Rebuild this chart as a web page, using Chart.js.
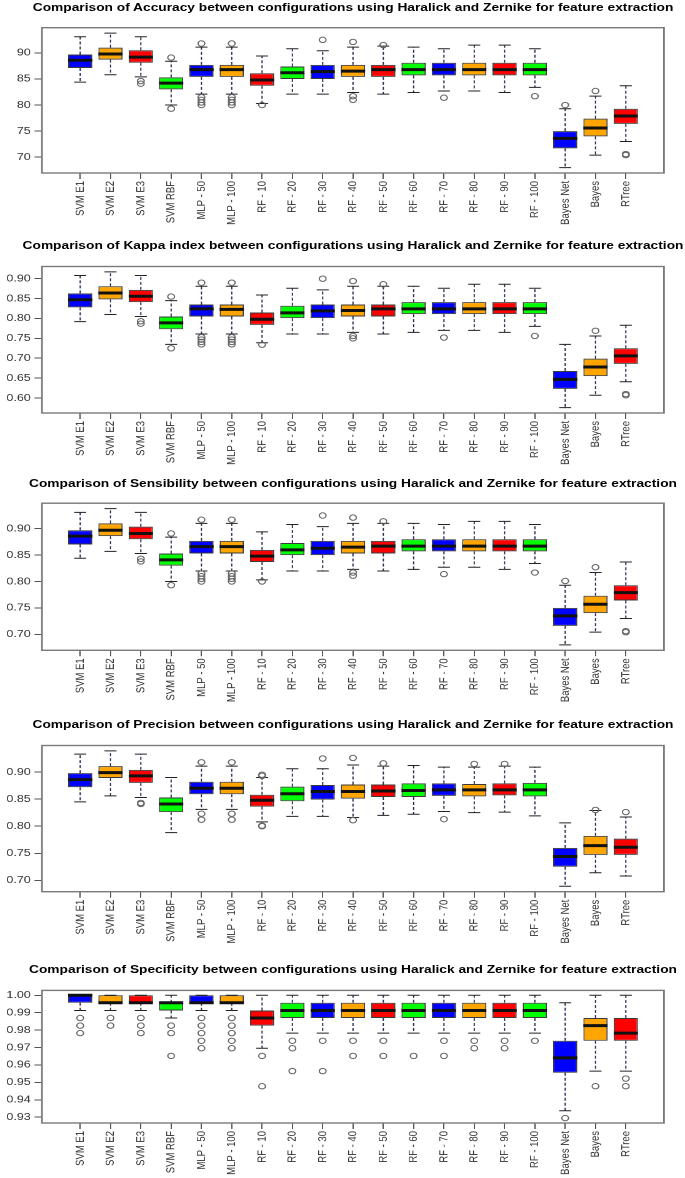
<!DOCTYPE html>
<html><head><meta charset="utf-8">
<script src="https://cdn.jsdelivr.net/npm/chart.js@4.4.0/dist/chart.umd.min.js"></script>
<style>
html,body{margin:0;padding:0;background:#fff;}
body{width:685px;height:1178px;position:relative;overflow:hidden;}
.panel{position:absolute;left:0;transform-origin:0 0;}
.panel canvas{display:block;position:absolute;left:0;top:0;}
.panel .ttl{position:absolute;width:600px;text-align:center;white-space:nowrap;font:bold 11px 'Liberation Sans', Arial, sans-serif;line-height:14px;color:#000;}
</style></head><body>
<div class="panel" id="p1"><canvas id="c1"></canvas><div class="ttl" id="t1"></div></div>
<div class="panel" id="p2"><canvas id="c2"></canvas><div class="ttl" id="t2"></div></div>
<div class="panel" id="p3"><canvas id="c3"></canvas><div class="ttl" id="t3"></div></div>
<div class="panel" id="p4"><canvas id="c4"></canvas><div class="ttl" id="t4"></div></div>
<div class="panel" id="p5"><canvas id="c5"></canvas><div class="ttl" id="t5"></div></div>
<script>
const categories = ['SVM E1','SVM E2','SVM E3','SVM RBF','MLP - 50','MLP - 100','RF - 10','RF - 20','RF - 30','RF - 40','RF - 50','RF - 60','RF - 70','RF - 80','RF - 90','RF - 100','Bayes Net','Bayes','RTree'];

// Accuracy
const accMin = [84.4, 85.8, 85.4, 80.0, 82.1, 82.1, 80.3, 82.1, 82.1, 82.4, 82.1, 82.4, 82.7, 82.7, 82.4, 83.4, 68.0, 70.4, 73.0];
const accQ1  = [87.1, 88.7, 88.1, 83.0, 85.4, 85.4, 83.7, 85.0, 85.0, 85.4, 85.4, 85.7, 85.7, 85.7, 85.7, 85.7, 71.7, 74.0, 76.4];
const accMed = [88.6, 89.8, 89.2, 84.2, 86.8, 86.8, 84.8, 86.2, 86.4, 86.5, 86.8, 86.8, 86.8, 86.8, 86.8, 86.8, 73.6, 75.6, 77.9];
const accQ3  = [89.7, 91.0, 90.5, 85.3, 87.7, 87.7, 86.1, 87.4, 87.7, 87.7, 87.7, 88.1, 88.1, 88.1, 88.1, 88.1, 75.0, 77.4, 79.3];
const accMax = [93.1, 93.8, 93.1, 88.4, 91.1, 91.1, 89.4, 90.8, 90.4, 91.1, 91.3, 91.1, 90.8, 91.5, 91.5, 90.8, 79.3, 81.7, 83.7];
const accOut = [[], [], [84.6, 84.1], [89.1, 79.3], [91.8, 81.5, 81.0, 80.5, 80.0], [91.8, 81.5, 81.0, 80.5, 80.0], [80.0], [], [92.5], [92.1, 81.7, 81.0], [91.5], [], [81.4], [], [], [81.7], [80.0], [82.7], [70.6, 70.4]];
const accTicks = [70, 75, 80, 85, 90];
const accTickLabels = ['70', '75', '80', '85', '90'];

// Kappa index
const kapMin = [0.792, 0.810, 0.805, 0.735, 0.761, 0.761, 0.739, 0.761, 0.761, 0.765, 0.761, 0.765, 0.770, 0.770, 0.765, 0.780, 0.576, 0.607, 0.641];
const kapQ1  = [0.828, 0.848, 0.841, 0.773, 0.805, 0.805, 0.784, 0.801, 0.801, 0.805, 0.805, 0.811, 0.811, 0.811, 0.811, 0.811, 0.623, 0.655, 0.686];
const kapMed = [0.847, 0.864, 0.856, 0.789, 0.824, 0.823, 0.798, 0.814, 0.819, 0.820, 0.824, 0.824, 0.824, 0.824, 0.824, 0.824, 0.647, 0.678, 0.706];
const kapQ3  = [0.863, 0.881, 0.872, 0.805, 0.835, 0.835, 0.815, 0.832, 0.835, 0.835, 0.835, 0.841, 0.841, 0.841, 0.841, 0.841, 0.668, 0.699, 0.725];
const kapMax = [0.908, 0.917, 0.908, 0.845, 0.881, 0.881, 0.859, 0.876, 0.872, 0.881, 0.881, 0.881, 0.876, 0.886, 0.886, 0.876, 0.735, 0.756, 0.783];
const kapOut = [[], [], [0.793, 0.787], [0.855, 0.725], [0.890, 0.753, 0.747, 0.741, 0.735], [0.890, 0.753, 0.747, 0.741, 0.735], [0.734], [], [0.900], [0.894, 0.756, 0.750], [0.886], [], [0.752], [], [], [0.756], [], [0.769], [0.610, 0.607]];
const kapTicks = [0.60, 0.65, 0.70, 0.75, 0.80, 0.85, 0.90];
const kapTickLabels = ['0.60', '0.65', '0.70', '0.75', '0.80', '0.85', '0.90'];

// Sensibility
const senMin = [0.844, 0.857, 0.853, 0.800, 0.820, 0.820, 0.803, 0.820, 0.820, 0.823, 0.820, 0.823, 0.827, 0.827, 0.823, 0.834, 0.680, 0.704, 0.730];
const senQ1  = [0.870, 0.886, 0.880, 0.830, 0.853, 0.853, 0.837, 0.850, 0.850, 0.853, 0.853, 0.857, 0.857, 0.857, 0.857, 0.857, 0.716, 0.740, 0.764];
const senMed = [0.886, 0.897, 0.891, 0.841, 0.866, 0.866, 0.848, 0.860, 0.863, 0.865, 0.867, 0.867, 0.867, 0.867, 0.867, 0.867, 0.735, 0.757, 0.779];
const senQ3  = [0.897, 0.910, 0.904, 0.853, 0.877, 0.877, 0.860, 0.873, 0.877, 0.877, 0.877, 0.880, 0.880, 0.880, 0.880, 0.880, 0.750, 0.773, 0.793];
const senMax = [0.931, 0.938, 0.931, 0.884, 0.910, 0.910, 0.894, 0.908, 0.904, 0.910, 0.910, 0.910, 0.908, 0.914, 0.914, 0.908, 0.793, 0.817, 0.837];
const senOut = [[], [], [0.843, 0.838], [0.891, 0.793], [0.917, 0.815, 0.810, 0.805, 0.800], [0.917, 0.815, 0.810, 0.805, 0.800], [0.800], [], [0.925], [0.921, 0.817, 0.811], [0.914], [], [0.814], [], [], [0.817], [0.801], [0.827], [0.706, 0.704]];
const senTicks = [0.70, 0.75, 0.80, 0.85, 0.90];
const senTickLabels = ['0.70', '0.75', '0.80', '0.85', '0.90'];

// Precision
const preMin = [0.845, 0.856, 0.853, 0.788, 0.831, 0.831, 0.808, 0.818, 0.818, 0.816, 0.820, 0.822, 0.827, 0.825, 0.826, 0.819, 0.689, 0.714, 0.708];
const preQ1  = [0.872, 0.889, 0.880, 0.826, 0.859, 0.859, 0.836, 0.846, 0.849, 0.851, 0.854, 0.854, 0.856, 0.855, 0.857, 0.855, 0.725, 0.747, 0.747];
const preMed = [0.886, 0.899, 0.893, 0.841, 0.870, 0.870, 0.848, 0.860, 0.864, 0.864, 0.865, 0.866, 0.867, 0.867, 0.867, 0.867, 0.744, 0.764, 0.761];
const preQ3  = [0.898, 0.911, 0.904, 0.853, 0.882, 0.882, 0.858, 0.873, 0.876, 0.877, 0.877, 0.879, 0.879, 0.878, 0.879, 0.880, 0.760, 0.782, 0.777];
const preMax = [0.933, 0.939, 0.933, 0.890, 0.911, 0.911, 0.890, 0.906, 0.906, 0.913, 0.911, 0.912, 0.909, 0.909, 0.911, 0.909, 0.806, 0.829, 0.817];
const preOut = [[], [], [0.843, 0.841], [], [0.918, 0.823, 0.812], [0.918, 0.823, 0.812], [0.895, 0.893, 0.801, 0.800], [], [0.925], [0.926, 0.811], [0.916], [], [0.813], [0.915], [0.915], [], [], [0.830], [0.826]];
const preTicks = [0.70, 0.75, 0.80, 0.85, 0.90];
const preTickLabels = ['0.70', '0.75', '0.80', '0.85', '0.90'];

// Specificity
const speMin = [0.9913, 0.9913, 0.9913, 0.9870, 0.9913, 0.9913, 0.9696, 0.9783, 0.9783, 0.9783, 0.9783, 0.9783, 0.9783, 0.9783, 0.9783, 0.9783, 0.9337, 0.9565, 0.9565];
const speQ1  = [0.9957, 0.9957, 0.9957, 0.9913, 0.9957, 0.9957, 0.9826, 0.9870, 0.9870, 0.9870, 0.9870, 0.9870, 0.9870, 0.9870, 0.9870, 0.9870, 0.9555, 0.9739, 0.9739];
const speMed = [1.0000, 0.9957, 0.9957, 0.9957, 0.9957, 0.9957, 0.9870, 0.9913, 0.9913, 0.9913, 0.9913, 0.9913, 0.9913, 0.9913, 0.9913, 0.9913, 0.9641, 0.9826, 0.9783];
const speQ3  = [1.0000, 1.0000, 1.0000, 0.9957, 1.0000, 1.0000, 0.9913, 0.9957, 0.9957, 0.9957, 0.9957, 0.9957, 0.9957, 0.9957, 0.9957, 0.9957, 0.9739, 0.9870, 0.9870];
const speMax = [1.0000, 1.0000, 1.0000, 1.0000, 1.0000, 1.0000, 1.0000, 1.0000, 1.0000, 1.0000, 1.0000, 1.0000, 1.0000, 1.0000, 1.0000, 1.0000, 0.9957, 1.0000, 1.0000];
const speOut = [[0.9870, 0.9826, 0.9783], [0.9870, 0.9826], [0.9870, 0.9826, 0.9783], [0.9826, 0.9783, 0.9652], [0.9870, 0.9826, 0.9783, 0.9739, 0.9696], [0.9870, 0.9826, 0.9783, 0.9739, 0.9696], [0.9652, 0.9478], [0.9739, 0.9696, 0.9565], [0.9739, 0.9565], [0.9739, 0.9652], [0.9739, 0.9652], [0.9652], [0.9739, 0.9652], [0.9739, 0.9696], [0.9739, 0.9696], [0.9739], [0.9295], [0.9478], [0.9522, 0.9478]];
const speTicks = [0.93, 0.94, 0.95, 0.96, 0.97, 0.98, 0.99, 1.00];
const speTickLabels = ['0.93', '0.94', '0.95', '0.96', '0.97', '0.98', '0.99', '1.00'];

const titles = [
  'Comparison of Accuracy between configurations using Haralick and Zernike for feature extraction',
  'Comparison of Kappa index between configurations using Haralick and Zernike for feature extraction',
  'Comparison of Sensibility between configurations using Haralick and Zernike for feature extraction',
  'Comparison of Precision between configurations using Haralick and Zernike for feature extraction',
  'Comparison of Specificity between configurations using Haralick and Zernike for feature extraction'
];

// style
const palette = ['#0000FF', '#FFA500', '#FF0000', '#00FF00'];
const SX = 1.25;             // horizontal stretch of the original figure
const W0 = 685 / SX;         // unstretched drawing width
Chart.defaults.font.family = "'Liberation Sans', Arial, sans-serif";
Chart.defaults.animation = false;

const framePlugin = {
  id: 'frame',
  afterDatasetsDraw(chart) {
    const a = chart.chartArea, ctx = chart.ctx;
    ctx.save();
    ctx.strokeStyle = '#7a7a7a';
    ctx.lineWidth = 1.4;
    ctx.strokeRect(a.left, a.top, a.right - a.left, a.bottom - a.top);
    ctx.restore();
  }
};

function panel(n, top, height, chartTop, chartBottom, titleCenter, title, mn, q1, md, q3, mx, out, tv, tl) {
  const wrap = document.getElementById('p' + n);
  wrap.style.top = top + 'px';
  wrap.style.width = W0 + 'px';
  wrap.style.height = height + 'px';
  wrap.style.transform = 'scaleX(' + SX + ')';
  const t = document.getElementById('t' + n);
  t.textContent = title;
  t.style.top = (titleCenter - 7) + 'px';
  t.style.left = (353 / SX - 300) + 'px';
  const cv = document.getElementById('c' + n);
  cv.style.width = W0 + 'px'; cv.style.height = height + 'px';
  cv.width = W0; cv.height = height;
  const pos = categories.map((c, i) => i + 1);
  const whisk = [];
  const caps = [];
  pos.forEach((x, i) => {
    whisk.push({x, y: q3[i]}, {x, y: mx[i]}, {x, y: null}, {x, y: q1[i]}, {x, y: mn[i]}, {x, y: null});
    caps.push({x, y: mn[i]}, {x, y: mx[i]});
  });
  const outPts = [];
  out.forEach((arr, i) => arr.forEach(v => outPts.push({x: pos[i], y: v})));
  const lo = Math.min(...mn, ...out.flat()), hi = Math.max(...mx, ...out.flat());
  const ext = (hi - lo) * 0.04;
  const leftW = 42 / SX, rightPad = 21 / SX;
  new Chart(cv, {
    data: {
      datasets: [
        {type: 'line', data: whisk, borderColor: '#2a2a50', borderWidth: 1, borderDash: [3, 2], pointRadius: 0, spanGaps: false, order: 4},
        {type: 'bar', data: pos.map((x, i) => ({x, y: [q1[i], q3[i]]})), backgroundColor: pos.map((x, i) => palette[i % 4]), borderColor: '#3a3a3a', borderWidth: 1, borderSkipped: false, barPercentage: 0.8, categoryPercentage: 1, order: 3},
        {type: 'line', data: caps, showLine: false, pointStyle: 'line', pointRadius: 4.8, pointBorderWidth: 1, pointBorderColor: '#222', order: 2},
        {type: 'line', data: pos.map((x, i) => ({x, y: md[i]})), showLine: false, pointStyle: 'line', pointRadius: 9.7, pointBorderWidth: 3, pointBorderColor: '#111', order: 1},
        {type: 'line', data: outPts, showLine: false, pointStyle: 'circle', pointRadius: 2.7, pointBorderWidth: 1, pointBorderColor: '#666', pointBackgroundColor: 'rgba(0,0,0,0)', order: 0}
      ]
    },
    options: {
      responsive: false,
      maintainAspectRatio: false,
      devicePixelRatio: 2,
      layout: {padding: {left: 0, right: rightPad, top: chartTop, bottom: 0}},
      plugins: {
        legend: {display: false},
        tooltip: {enabled: false},
        title: {display: false}
      },
      scales: {
        x: {
          type: 'linear', offset: false, min: 1 - 1.26, max: categories.length + 1.26,
          afterBuildTicks: s => { s.ticks = pos.map(v => ({value: v})); },
          afterFit: s => { s.height = height - chartBottom; s.paddingLeft = 0; s.paddingRight = 0; },
          ticks: {autoSkip: false, maxRotation: 90, minRotation: 90, color: '#333', font: {size: 9.5}, padding: 2,
            callback: v => categories[Math.round(v) - 1]},
          grid: {offset: false, drawOnChartArea: false, drawTicks: true, tickLength: 6, color: '#555'},
          border: {display: false}
        },
        y: {
          type: 'linear', min: lo - ext, max: hi + ext,
          afterBuildTicks: s => { s.ticks = tv.map(v => ({value: v})); },
          afterFit: s => { s.width = leftW; s.paddingTop = 0; s.paddingBottom = 0; },
          ticks: {color: '#333', font: {size: 10}, padding: 3, callback: (v, i) => tl[i]},
          grid: {drawOnChartArea: false, drawTicks: true, tickLength: 6, color: '#555'},
          border: {display: false}
        }
      }
    },
    plugins: [framePlugin]
  });
}

panel(1, 0, 235, 27.7, 173, 7, titles[0], accMin, accQ1, accMed, accQ3, accMax, accOut, accTicks, accTickLabels);
panel(2, 235, 235, 31.5, 178, 10, titles[1], kapMin, kapQ1, kapMed, kapQ3, kapMax, kapOut, kapTicks, kapTickLabels);
panel(3, 470, 235, 33.2, 180.3, 13, titles[2], senMin, senQ1, senMed, senQ3, senMax, senOut, senTicks, senTickLabels);
panel(4, 705, 240, 40.5, 186.7, 19, titles[3], preMin, preQ1, preMed, preQ3, preMax, preOut, preTicks, preTickLabels);
panel(5, 940, 238, 50.4, 183, 29, titles[4], speMin, speQ1, speMed, speQ3, speMax, speOut, speTicks, speTickLabels);
</script>
</body></html>
